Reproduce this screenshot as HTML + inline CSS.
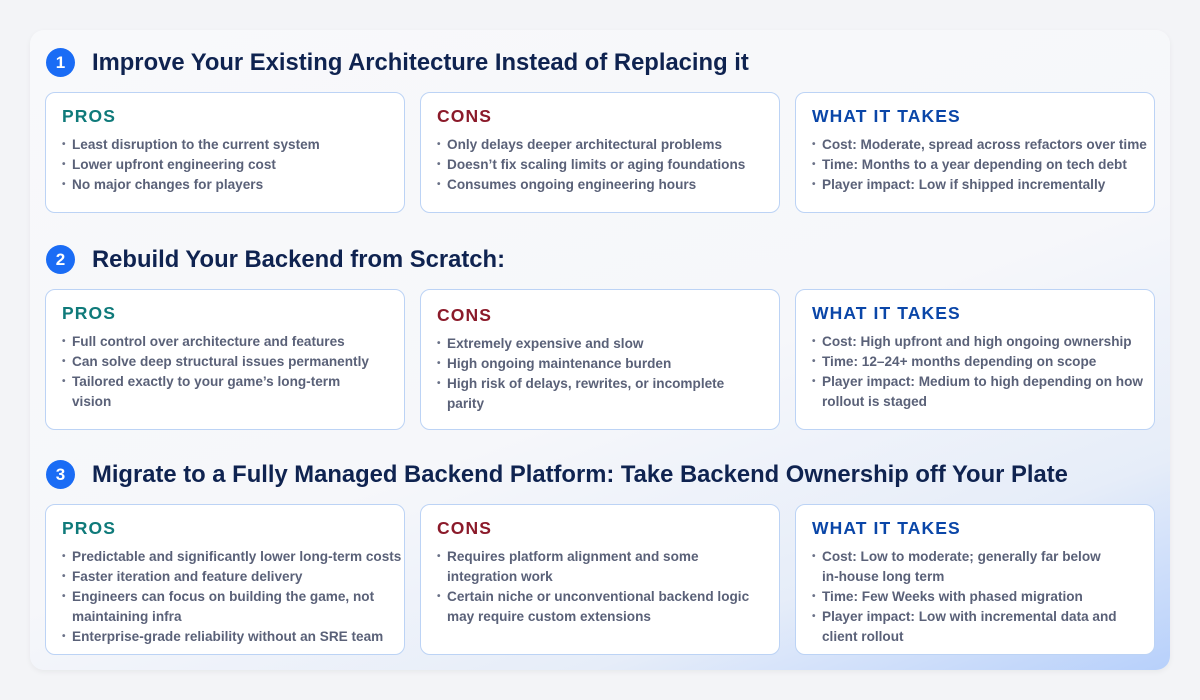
<!DOCTYPE html>
<html><head><meta charset="utf-8"><style>
*{margin:0;padding:0;box-sizing:border-box}
body{width:1200px;height:700px;background:#f3f4f7;font-family:"Liberation Sans",sans-serif;position:relative;overflow:hidden}
.panel{position:absolute;left:30px;top:30px;width:1140px;height:640px;border-radius:14px;background:linear-gradient(160deg,#f8f9fb 0%,#f6f7fa 55%,#e6edf9 80%,#b7d0fb 100%);box-shadow:0 2px 6px rgba(0,0,0,.05)}
.num{position:absolute;left:46px;width:29px;height:29px;border-radius:50%;background:#1a6cf5;color:#fff;font-weight:bold;font-size:17px;text-align:center;line-height:29px}
.title{position:absolute;left:92px;font-size:23.8px;font-weight:bold;color:#0f2350;white-space:nowrap;line-height:29px}
.card{position:absolute;width:360px;background:#fff;border:1px solid #bcd3f5;border-radius:10px;padding:12px 0 0 16px}
.card h3{font-size:17.5px;font-weight:bold;letter-spacing:1.1px;margin-bottom:8px;line-height:22px}
.pros h3{color:#0f7a7a}.cons h3{color:#8b1a2a}.what h3{color:#0a46a8}
.card ul{list-style:none}
.card li{position:relative;padding-left:10px;font-size:13.6px;line-height:20px;color:#5a6178;font-weight:bold}
.card li:before{content:"•";position:absolute;left:0;font-size:10px;color:#6b7288}
</style></head><body>
<div class="panel"></div>
<div class="num" style="top:48px">1</div><div class="title" style="top:48px">Improve Your Existing Architecture Instead of Replacing it</div>
<div class="num" style="top:245px">2</div><div class="title" style="top:245px">Rebuild Your Backend from Scratch:</div>
<div class="num" style="top:460px">3</div><div class="title" style="top:460px">Migrate to a Fully Managed Backend Platform: Take Backend Ownership off Your Plate</div>

<div class="card pros" style="left:45px;top:92px;height:121px"><h3>PROS</h3><ul><li>Least disruption to the current system</li><li>Lower upfront engineering cost</li><li>No major changes for players</li></ul></div>
<div class="card cons" style="left:420px;top:92px;height:121px"><h3>CONS</h3><ul><li>Only delays deeper architectural problems</li><li>Doesn’t fix scaling limits or aging foundations</li><li>Consumes ongoing engineering hours</li></ul></div>
<div class="card what" style="left:795px;top:92px;height:121px"><h3>WHAT IT TAKES</h3><ul><li>Cost: Moderate, spread across refactors over time</li><li>Time: Months to a year depending on tech debt</li><li>Player impact: Low if shipped incrementally</li></ul></div>

<div class="card pros" style="left:45px;top:289px;height:141px"><h3>PROS</h3><ul><li>Full control over architecture and features</li><li>Can solve deep structural issues permanently</li><li>Tailored exactly to your game’s long-term<br>vision</li></ul></div>
<div class="card cons" style="left:420px;top:289px;height:141px"><h3 style="margin-top:2px">CONS</h3><ul><li>Extremely expensive and slow</li><li>High ongoing maintenance burden</li><li>High risk of delays, rewrites, or incomplete<br>parity</li></ul></div>
<div class="card what" style="left:795px;top:289px;height:141px"><h3>WHAT IT TAKES</h3><ul><li>Cost: High upfront and high ongoing ownership</li><li>Time: 12–24+ months depending on scope</li><li>Player impact: Medium to high depending on how<br>rollout is staged</li></ul></div>

<div class="card pros" style="left:45px;top:504px;height:151px"><h3>PROS</h3><ul><li>Predictable and significantly lower long-term costs</li><li>Faster iteration and feature delivery</li><li>Engineers can focus on building the game, not<br>maintaining infra</li><li>Enterprise-grade reliability without an SRE team</li></ul></div>
<div class="card cons" style="left:420px;top:504px;height:151px"><h3>CONS</h3><ul><li>Requires platform alignment and some<br>integration work</li><li>Certain niche or unconventional backend logic<br>may require custom extensions</li></ul></div>
<div class="card what" style="left:795px;top:504px;height:151px"><h3>WHAT IT TAKES</h3><ul><li>Cost: Low to moderate; generally far below<br>in-house long term</li><li>Time: Few Weeks with phased migration</li><li>Player impact: Low with incremental data and<br>client rollout</li></ul></div>
</body></html>
